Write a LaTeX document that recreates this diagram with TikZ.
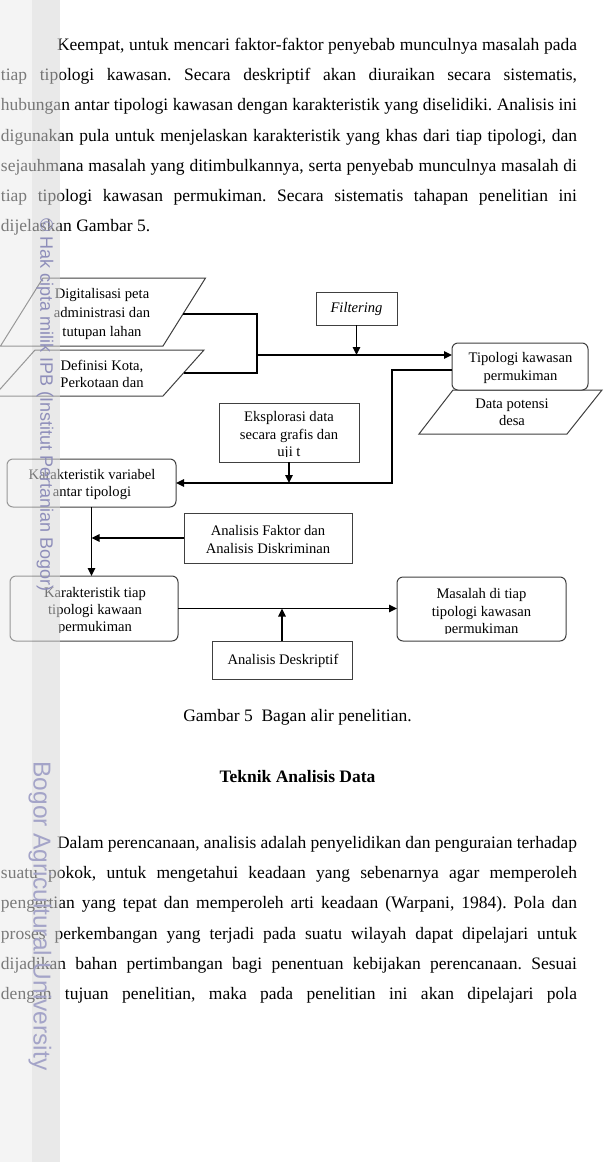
\documentclass[tikz,border=0pt]{standalone}
\usepackage{fontspec}
\setmainfont{Liberation Serif}
\newfontfamily\wmfont{Liberation Sans}
\usetikzlibrary{arrows.meta,calc}
\newcommand{\jl}[2]{\makebox[#1][s]{#2}}
\frenchspacing
\begin{document}
\begin{tikzpicture}[x=1pt,y=-1pt,
  every node/.style={inner sep=0pt, outer sep=0pt},
  body/.style={anchor=base west, font=\fontsize{17.5}{20}\selectfont},
  ctr/.style={anchor=base, font=\fontsize{17.5}{20}\selectfont},
  dtxt/.style={font=\fontsize{14.6}{17.3}\selectfont, align=center},
  sqbox/.style={draw=black!75, line width=1pt, fill=white},
  rbox/.style={draw=black!75, line width=1pt, rounded corners=6pt, fill=white},
  pbox/.style={draw=black!75, line width=1pt, fill=white},
  conn/.style={draw=black, line width=1.6pt},
  arr/.style={conn, -{Triangle[length=8pt,width=7.5pt]}},
  wm/.style={text=wmc, font=\wmfont, rotate=-90},
]
\definecolor{wmc}{RGB}{142,142,186}
\useasboundingbox (0,0) rectangle (603,1162);
\fill[white] (0,0) rectangle (603,1162);

% ---------- paragraph 1 ----------
\node[body] (a1) at (57,50.5) {\jl{520pt}{Keempat, untuk mencari faktor-faktor penyebab munculnya masalah pada}};
\node[body] (a2) at (1,80.7) {\jl{576pt}{tiap tipologi kawasan. Secara deskriptif akan diuraikan secara sistematis,}};
\node[body] (a3) at (1,110.9) {\jl{576pt}{hubungan antar tipologi kawasan dengan karakteristik yang diselidiki. Analisis ini}};
\node[body] (a4) at (1,141.1) {\jl{576pt}{digunakan pula untuk menjelaskan karakteristik yang khas dari tiap tipologi, dan}};
\node[body] (a5) at (1,171.3) {\jl{576pt}{sejauhmana masalah yang ditimbulkannya, serta penyebab munculnya masalah di}};
\node[body] (a6) at (1,201.5) {\jl{576pt}{tiap tipologi kawasan permukiman. Secara sistematis tahapan penelitian ini}};
\node[body] (a7) at (1,231.7) {dijelaskan Gambar 5.};

% ---------- diagram ----------
% input parallelograms
\draw[pbox] (43,278) -- (205.5,278) -- (163,346) -- (0.5,346) -- cycle;
\node[dtxt, font=\fontsize{14.6}{19}\selectfont] (p1) at (102,314) {Digitalisasi peta\\administrasi dan\\tutupan lahan};
\draw[pbox] (35,350) -- (204,350) -- (163,396) -- (-6,396) -- cycle;
\node[dtxt] (p2) at (102,374) {Definisi Kota,\\Perkotaan dan};
\coordinate (p1r) at (183,314);
\coordinate (p2r) at (183.5,373);
\coordinate (j) at (257,355);

\node[sqbox, minimum width=81pt, minimum height=33pt] (filt) at (356.5,308.5) {};
\node[dtxt] (filtt) at (356.5,309) {\itshape Filtering};

\draw[pbox] (453,390) -- (602,390) -- (567,434) -- (419,434) -- cycle;
\node[dtxt] (dpd) at (512,412.5) {Data potensi\\desa};
\node[rbox, minimum width=136pt, minimum height=47pt] (tipo) at (520,366.5) {};
\node[dtxt] (tipot) at (520.5,368) {Tipologi kawasan\\permukiman};

\node[sqbox, minimum width=140pt, minimum height=59pt] (ekspl) at (289,432.5) {};
\begin{scope}
\clip (220,404) rectangle (358,456.7);
\node[dtxt] (ekspt) at (289,435.5) {Eksplorasi data\\secara grafis dan\\uji t};
\end{scope}

\node[rbox, minimum width=169pt, minimum height=48pt] (karvar) at (91.5,483) {};
\node[dtxt] (karvart) at (92,484.5) {Karakteristik variabel\\antar tipologi};

\node[sqbox, minimum width=168pt, minimum height=50pt] (anf) at (268,538) {};
\node[dtxt] (anft) at (268,539.5) {Analisis Faktor dan\\Analisis Diskriminan};

\node[rbox, minimum width=168pt, minimum height=65pt] (karti) at (94,608.5) {};
\begin{scope}
\clip (11,577) rectangle (177,632.3);
\node[dtxt] (kartit) at (95,611) {Karakteristik tiap\\tipologi kawaan\\permukiman};
\end{scope}

\node[rbox, minimum width=169pt, minimum height=64pt] (masalah) at (481.5,609) {};
\begin{scope}
\clip (398,578) rectangle (565,633.5);
\node[dtxt] (masalaht) at (481.5,612.5) {Masalah di tiap\\tipologi kawasan\\permukiman};
\end{scope}

\node[sqbox, minimum width=140pt, minimum height=38pt] (desk) at (282,660) {};
\node[dtxt] (deskt) at (283,661) {Analisis Deskriptif};

% connectors
\coordinate (bend) at (392,370);
\draw[conn] (p1r) -- (p1r -| j) -- (p2r -| j) -- (p2r);
\draw[arr] (j) -- (j -| tipo.west);
\draw[arr] (filt.south) -- (filt.south |- j);
\draw[arr] (tipo.west |- bend) -- (bend) |- (karvar.east);
\draw[arr] (ekspl.south) -- (ekspl.south |- karvar.east);
\draw[arr] (karvar.south) -- (karvar.south |- karti.north);
\draw[arr] (anf.west) -- (anf.west -| karvar.south);
\draw[arr] (karti.east) -- (karti.east -| masalah.west);
\draw[arr] (desk.north) -- (desk.north |- karti.east);

% ---------- caption & heading ----------
\node[ctr] (cap) at (297.5,721) {Gambar 5\hspace{0.5em}Bagan alir penelitian.};
\node[ctr, font=\fontsize{17.5}{20}\selectfont\bfseries] (head) at (297.5,782) {Teknik Analisis Data};

% ---------- paragraph 2 ----------
\node[body] (b1) at (57,848.5) {\jl{520pt}{Dalam perencanaan, analisis adalah penyelidikan dan penguraian terhadap}};
\node[body] (b2) at (1,878.7) {\jl{576pt}{suatu pokok, untuk mengetahui keadaan yang sebenarnya agar memperoleh}};
\node[body] (b3) at (1,908.9) {\jl{576pt}{pengertian yang tepat dan memperoleh arti keadaan (Warpani, 1984). Pola dan}};
\node[body] (b4) at (1,939.1) {\jl{576pt}{proses perkembangan yang terjadi pada suatu wilayah dapat dipelajari untuk}};
\node[body] (b5) at (1,969.3) {\jl{576pt}{dijadikan bahan pertimbangan bagi penentuan kebijakan perencanaan. Sesuai}};
\node[body] (b6) at (1,999.5) {\jl{576pt}{dengan tujuan penelitian, maka pada penelitian ini akan dipelajari pola}};

% ---------- watermark band ----------
\fill[white, opacity=0.5] (0,0) rectangle (60,1162);
\fill[black, opacity=0.045] (0,0) rectangle (32,1162);
\fill[black, opacity=0.085] (32,0) rectangle (60,1162);
\node[wm, font=\wmfont\fontsize{18}{22}\selectfont] (wm1) at (45,405) {\textcopyright\ Hak cipta milik IPB (Institut Pertanian Bogor)};
\node[wm, font=\wmfont\fontsize{24.5}{28}\selectfont, text=wmc!80] (wm2) at (40,916) {Bogor Agricultural University};
\end{tikzpicture}
\end{document}
